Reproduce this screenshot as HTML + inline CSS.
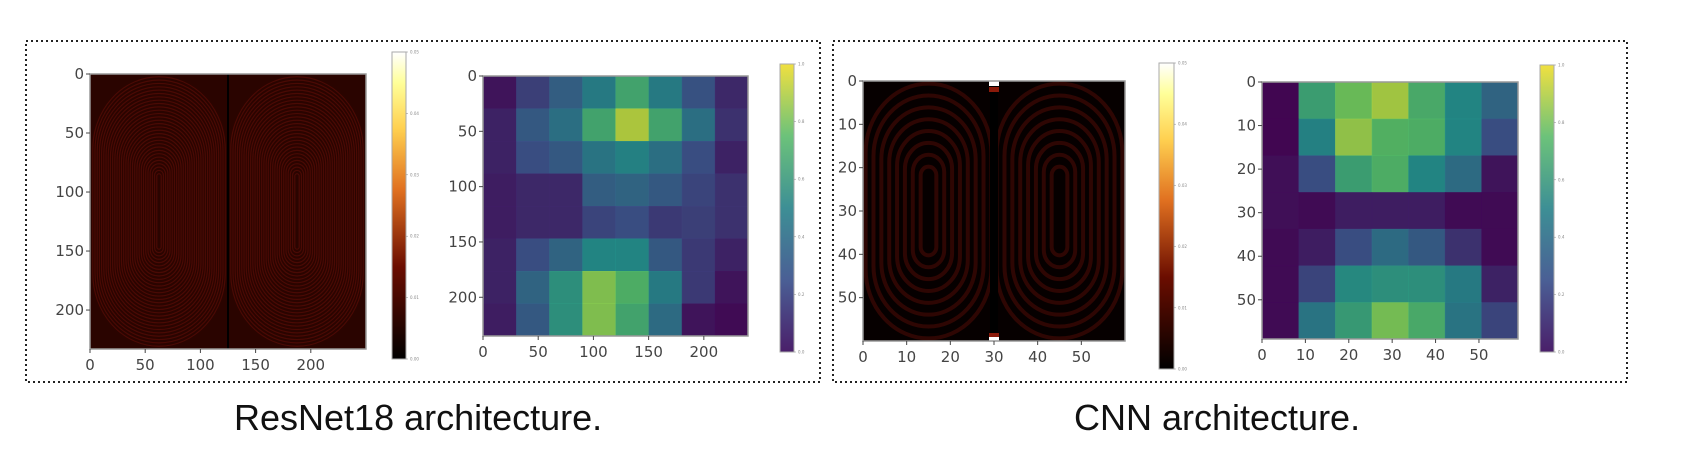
<!DOCTYPE html>
<html><head><meta charset="utf-8"><style>
html,body{margin:0;padding:0;background:#fff;width:1682px;height:470px;overflow:hidden}
svg{display:block}
text{font-family:"DejaVu Sans","Liberation Sans",sans-serif}
.cap{font-family:"Liberation Sans",sans-serif;font-size:36px;fill:#111}
</style></head><body>
<svg id="s" width="1682" height="470" viewBox="0 0 1682 470" xmlns="http://www.w3.org/2000/svg">
<defs>
<linearGradient id="heat" x1="0" y1="1" x2="0" y2="0">
<stop offset="0" stop-color="#000"/><stop offset="0.3" stop-color="#6b0d00"/><stop offset="0.55" stop-color="#e07020"/><stop offset="0.75" stop-color="#ffd050"/><stop offset="0.9" stop-color="#ffff99"/><stop offset="1" stop-color="#fff"/>
</linearGradient>
<linearGradient id="vir" x1="0" y1="1" x2="0" y2="0">
<stop offset="0" stop-color="#4a1f6a"/><stop offset="0.25" stop-color="#4a5f95"/><stop offset="0.5" stop-color="#3d8f95"/><stop offset="0.75" stop-color="#6cc27a"/><stop offset="1" stop-color="#f0e040"/>
</linearGradient>
</defs>
<rect x="26" y="41" width="794" height="341" fill="none" stroke="#222" stroke-width="2" stroke-dasharray="2,3"/>
<rect x="833" y="41" width="794" height="341" fill="none" stroke="#222" stroke-width="2" stroke-dasharray="2,3"/>
<text class="cap" x="234" y="430">ResNet18 architecture.</text>
<text class="cap" x="1074" y="430">CNN architecture.</text>
</svg>
<script>
// ResNet18 viridis heatmap values (8x8, rows top to bottom)
const resnetRow0=[0.05,0.2,0.32,0.45,0.65,0.45,0.27,0.12];
const resnetRow1=[0.1,0.3,0.4,0.65,0.9,0.65,0.4,0.15];
const resnetRow2=[0.1,0.25,0.3,0.42,0.48,0.4,0.25,0.1];
const resnetRow3=[0.08,0.12,0.12,0.32,0.35,0.3,0.22,0.15];
const resnetRow4=[0.08,0.12,0.12,0.22,0.25,0.18,0.2,0.15];
const resnetRow5=[0.1,0.25,0.35,0.5,0.5,0.3,0.18,0.1];
const resnetRow6=[0.1,0.35,0.55,0.82,0.7,0.45,0.18,0.05];
const resnetRow7=[0.08,0.3,0.55,0.82,0.65,0.38,0.05,0.02];
// CNN viridis heatmap values (7x7)
const cnnRow0=[0.0,0.62,0.78,0.88,0.68,0.5,0.35];
const cnnRow1=[0.0,0.48,0.85,0.72,0.7,0.5,0.25];
const cnnRow2=[0.03,0.25,0.62,0.7,0.5,0.38,0.05];
const cnnRow3=[0.03,0.02,0.08,0.08,0.08,0.02,0.02];
const cnnRow4=[0.02,0.08,0.25,0.38,0.3,0.15,0.02];
const cnnRow5=[0.02,0.22,0.52,0.55,0.55,0.45,0.1];
const cnnRow6=[0.02,0.42,0.6,0.8,0.68,0.42,0.22];
const resnetTicks=[0,50,100,150,200];
const cnnTicks=[0,10,20,30,40,50];
const heatCbTicks=["0.00","0.01","0.02","0.03","0.04","0.05"];
const virCbTicks=["0.0","0.2","0.4","0.6","0.8","1.0"];

const NS="http://www.w3.org/2000/svg";
const svg=document.getElementById('s');
function mk(tag,attrs,parent){const e=document.createElementNS(NS,tag);for(const k in attrs)e.setAttribute(k,attrs[k]);(parent||svg).appendChild(e);return e;}
const VS=[[0,[68,1,84]],[0.25,[59,82,139]],[0.5,[33,145,140]],[0.75,[94,201,98]],[1,[253,231,37]]];
function viridis(v){v=Math.max(0,Math.min(1,v));for(let i=1;i<VS.length;i++){if(v<=VS[i][0]){const a=VS[i-1],b=VS[i],t=(v-a[0])/(b[0]-a[0]);const c=a[1].map((x,j)=>Math.round(x+(b[1][j]-x)*t));return `rgb(${c[0]},${c[1]},${c[2]})`;}}return 'rgb(253,231,37)';}

function axes(name,x0,y0,w,h,xmax,ymax,ticks){
  const sx=v=>x0+v/xmax*w, sy=v=>y0+v/ymax*h;
  const g=mk('g',{});
  
  
  mk('rect',{x:x0,y:y0,width:w,height:h,fill:'none',stroke:'#999','stroke-width':1.5},g);
  ticks.forEach(t=>{
    if(t<=xmax){mk('line',{x1:sx(t),x2:sx(t),y1:y0+h,y2:y0+h+4,stroke:'#444'},g);
      const tx=mk('text',{x:sx(t),y:y0+h+21,'font-size':15,fill:'#444','text-anchor':'middle'},g);tx.textContent=t;
      
      }
    if(t<=ymax){mk('line',{x1:x0-4,x2:x0,y1:sy(t),y2:sy(t),stroke:'#444'},g);
      const ty=mk('text',{x:x0-6,y:sy(t)+5,'font-size':15,fill:'#444','text-anchor':'end'},g);ty.textContent=t;
      
      }
  });
  return {sx,sy};
}
function colorbar(name,x,y,w,h,grad,labels){
  const r=mk('rect',{x,y,width:w,height:h,fill:`url(#${grad})`,stroke:'#aaa','stroke-width':1});
  
  
  labels.forEach((l,i)=>{const yy=y+h-i/(labels.length-1)*h;
    mk('line',{x1:x+w,x2:x+w+2,y1:yy,y2:yy,stroke:'#888','stroke-width':0.5});
    const t=mk('text',{x:x+w+4,y:yy+1.5,'font-size':4,fill:'#888'});t.textContent=l;
    
    });
}
function grid(name,rows,x0,y0,w,h,n){
  const cw=w/n,ch=h/n;
  mk('rect',{x:x0,y:y0,width:w,height:h,fill:'#2a2a3a'});
  rows.forEach((row,r)=>row.forEach((v,c)=>{
    const e=mk('rect',{x:x0+c*cw,y:y0+r*ch,width:cw+0.5,height:ch+0.5,fill:viridis(v),'fill-opacity':0.88});
    
    
  }));
}
function rings(name,x0,y0,w,h,bg,col,n,sw,seam){
  const g=mk('g',{});
  
  
  mk('rect',{x:x0,y:y0,width:w,height:h,fill:bg},g);
  const hw=w/2;
  [x0,x0+hw].forEach(lx=>{
    for(let k=1;k<=n;k++){const f=k/n;const rw=hw*f*0.96,rh=h*(0.25+0.73*f);
      mk('rect',{x:lx+(hw-rw)/2,y:y0+(h-rh)/2,width:rw,height:rh,rx:rw*0.5,ry:Math.min(rh/2,rw*0.55),fill:'none',stroke:col,'stroke-width':sw},g);}
  });
  mk('rect',{x:x0+hw-seam/2,y:y0,width:seam,height:h,fill:'#000'},g);
  return g;
}
// ResNet field
rings('resnet-field-map',90,74,276,275,'#2a0400','#4a0a04',30,1.2,2);
axes('resnet-field',90,74,276,275,250,233,resnetTicks);
colorbar('resnet-field-colorbar',392,52,14,307,'heat',heatCbTicks);
// ResNet viridis
grid('resnet-heatmap',[resnetRow0,resnetRow1,resnetRow2,resnetRow3,resnetRow4,resnetRow5,resnetRow6,resnetRow7],483,76,265,260,8);
axes('resnet-heatmap',483,76,265,260,240,235,resnetTicks);
colorbar('resnet-heatmap-colorbar',780,64,14,288,'vir',virCbTicks);
// CNN field
rings('cnn-field-map',863,81,262,260,'#060000','#2e0603',8,4,8);
[[0,'#fff'],[6,'#8a1a0a'],[252,'#8a1a0a'],[256,'#fff']].forEach(p=>{const m=mk('rect',{x:863+131-5,y:81+p[0],width:10,height:5,fill:p[1]});

});
axes('cnn-field',863,81,262,260,60,60,cnnTicks);
colorbar('cnn-field-colorbar',1159,63,15,306,'heat',heatCbTicks);
// CNN viridis
grid('cnn-heatmap',[cnnRow0,cnnRow1,cnnRow2,cnnRow3,cnnRow4,cnnRow5,cnnRow6],1262,82,256,257,7);
axes('cnn-heatmap',1262,82,256,257,59,59,cnnTicks);
colorbar('cnn-heatmap-colorbar',1540,65,14,287,'vir',virCbTicks);
</script>
</body></html>
